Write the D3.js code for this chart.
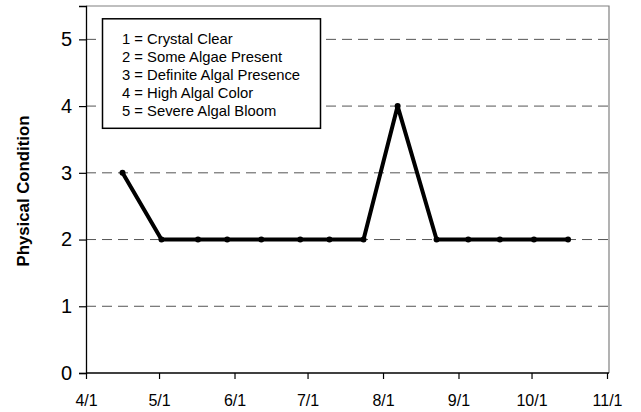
<!DOCTYPE html>
<html><head><meta charset="utf-8">
<script src="https://cdn.jsdelivr.net/npm/d3@7"></script>
<style>body{margin:0;background:#fff}svg{display:block}text{font-family:"Liberation Sans",Arial,sans-serif}</style>
</head><body><svg id="c" width="641" height="412"></svg>
<script>
const dates = ["2001-04-16","2001-05-02","2001-05-17","2001-05-29","2001-06-12","2001-06-28","2001-07-10","2001-07-24","2001-08-07","2001-08-23","2001-09-05","2001-09-18","2001-10-02","2001-10-16"];
const values = [3,2,2,2,2,2,2,2,4,2,2,2,2,2];
const xTickLabels = ["4/1","5/1","6/1","7/1","8/1","9/1","10/1","11/1"];
const yTicks = [0,1,2,3,4,5];
const legendLines = ["1 = Crystal Clear","2 = Some Algae Present","3 = Definite Algal Presence","4 = High Algal Color","5 = Severe Algal Bloom"];
const yTitle = "Physical Condition";

const parse = d3.timeParse("%Y-%m-%d");
const svg = d3.select("#c");
const L = 86, R = 607, T = 6, B = 373, frameR = 609;
const x = d3.scaleTime().domain([parse("2001-04-01"), parse("2001-11-01")]).range([L, R]);
const y = d3.scaleLinear().domain([0, 5.5]).range([B, T]);

// frame (top/right)
svg.append("path").attr("d", `M${L},${T}H${frameR}V${B}`).attr("fill","none").attr("stroke","#808080").attr("stroke-width",1.2);

// gridlines
svg.append("g").selectAll("line").data(yTicks.filter(d=>d>0)).join("line")
  .attr("x1", L).attr("x2", frameR).attr("y1", d=>y(d)).attr("y2", d=>y(d))
  .attr("stroke","#555").attr("stroke-width",1).attr("stroke-dasharray","10,6");

// y axis
const ya = svg.append("g").attr("transform",`translate(${L},0)`)
  .call(d3.axisLeft(y).tickValues(yTicks).tickSize(7).tickPadding(7).tickFormat(d3.format("d")));
ya.select(".domain").attr("stroke","#000").attr("stroke-width",1.3);
ya.selectAll(".tick line").attr("stroke","#000").attr("stroke-width",1.2);
ya.selectAll("text").attr("font-size",20).attr("fill","#000").style("font-family","'Liberation Sans',Arial,sans-serif");

// x axis
const monthTicks = d3.timeMonth.range(parse("2001-04-01"), d3.timeDay.offset(parse("2001-11-01"),1));
const xa = svg.append("g").attr("transform",`translate(0,${B})`)
  .call(d3.axisBottom(x).tickValues(monthTicks).tickSize(6).tickPadding(16).tickFormat((d,i)=>xTickLabels[i]));
xa.select(".domain").attr("stroke","#000").attr("stroke-width",1.3).attr("d",`M${L},0H${frameR}`);
xa.selectAll(".tick line").attr("stroke","#000").attr("stroke-width",1.2);
xa.selectAll("text").attr("font-size",16).attr("fill","#000").style("font-family","'Liberation Sans',Arial,sans-serif");

// y title
svg.append("text").attr("transform","translate(29,191) rotate(-90)").attr("text-anchor","middle")
  .attr("font-size",16.8).attr("font-weight","bold").text(yTitle);

// data
const data = dates.map((d,i)=>({d:parse(d), v:values[i]}));
svg.append("path").datum(data).attr("fill","none").attr("stroke","#000").attr("stroke-width",4)
  .attr("stroke-linejoin","round").attr("d", d3.line().x(d=>x(d.d)).y(d=>y(d.v)));
svg.append("g").selectAll("circle").data(data).join("circle")
  .attr("cx",d=>x(d.d)).attr("cy",d=>y(d.v)).attr("r",3).attr("fill","#000");

// legend
const lg = svg.append("g");
lg.append("rect").attr("x",102.5).attr("y",18.8).attr("width",218).attr("height",109.5)
  .attr("fill","#fff").attr("stroke","#000").attr("stroke-width",1.5);
lg.selectAll("text").data(legendLines).join("text")
  .attr("x",122).attr("y",(d,i)=>43.8+i*18).attr("font-size",14.8).text(d=>d);
</script></body></html>
